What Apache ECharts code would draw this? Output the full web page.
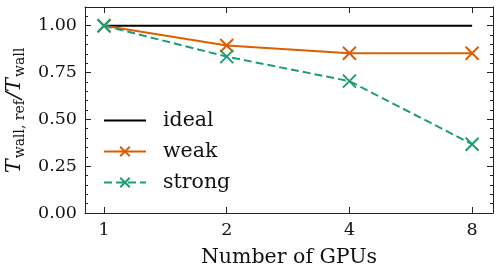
<!DOCTYPE html>
<html>
<head>
<meta charset="utf-8">
<script src="https://cdn.jsdelivr.net/npm/echarts@6/dist/echarts.min.js"></script>
<style>
  html, body { margin: 0; padding: 0; background: #fff; }
  #chart { width: 500px; height: 268px; }
</style>
</head>
<body>
<div id="chart"></div>
<script>
// data
var gpus = [1, 2, 4, 8];
var ideal = [1.0, 1.0, 1.0, 1.0];
var weak = [1.0, 0.894, 0.853, 0.853];
var strong = [1.0, 0.835, 0.704, 0.367];
var yTicks = [0, 0.25, 0.5, 0.75, 1.0];

function pairs(xs, ys) {
    return xs.map(function (x, i) { return [x, ys[i]]; });
}

var FONT = 'DejaVu Serif';
var AXIS = '#222';
var crossSymbol = 'path://M0,0L10,10M10,0L0,10';

var chart = echarts.init(document.getElementById('chart'), null, { renderer: 'canvas' });

var xBase = {
    type: 'log',
    logBase: 2,
    min: 0.898,
    max: 9.0,
    axisLine: { show: true, onZero: false, lineStyle: { color: AXIS, width: 1 } },
    axisTick: { show: true, inside: true, length: 6, lineStyle: { color: AXIS } },
    splitLine: { show: false },
    minorTick: { show: false }
};
var yBase = {
    type: 'value',
    min: 0,
    max: 1.1,
    interval: 0.25,
    axisLine: { show: true, onZero: false, lineStyle: { color: AXIS, width: 1 } },
    axisTick: { show: true, inside: true, length: 6, lineStyle: { color: AXIS } },
    minorTick: { show: true, splitNumber: 5, length: 3, lineStyle: { color: AXIS } },
    splitLine: { show: false }
};

var option = {
    animation: false,
    textStyle: { fontFamily: FONT },
    grid: { left: 85, right: 7, top: 7, bottom: 55, outerBoundsMode: 'none' },
    legend: {
        orient: 'vertical',
        left: 98,
        top: 105,
        itemWidth: 42,
        itemHeight: 12,
        itemGap: 10,
        textStyle: { fontFamily: FONT, fontSize: 20.5, color: '#111', padding: [0, 0, 0, 12] },
        data: [
            { name: 'ideal', itemStyle: { opacity: 0 } },
            'weak',
            'strong'
        ]
    },
    xAxis: [
        Object.assign({}, xBase, {
            position: 'bottom',
            name: 'Number of GPUs',
            nameLocation: 'middle',
            nameGap: 34,
            nameTextStyle: { fontFamily: FONT, fontSize: 20.5, color: '#111' },
            axisLabel: {
                fontFamily: FONT, fontSize: 17.5, color: '#111', margin: 8,
                showMinLabel: false, showMaxLabel: false,
                formatter: function (v) { return gpus.indexOf(Math.round(v)) >= 0 ? String(Math.round(v)) : ''; }
            }
        }),
        Object.assign({}, xBase, { position: 'top', axisLabel: { show: false } })
    ],
    yAxis: [
        Object.assign({}, yBase, {
            position: 'left',
            name: '{t|T}{s|wall, ref}{t|/}{t|T}{s|wall}',
            nameLocation: 'middle',
            nameGap: 57,
            nameRotate: 90,
            nameTextStyle: {
                rich: {
                    t: { fontFamily: FONT, fontSize: 21, fontStyle: 'italic', color: '#111' },
                    s: { fontFamily: FONT, fontSize: 14, color: '#111', padding: [12, 1, 0, 1] }
                }
            },
            axisLabel: {
                fontFamily: FONT, fontSize: 17.5, color: '#111', margin: 8,
                showMaxLabel: false,
                formatter: function (v) { return yTicks.indexOf(v) >= 0 ? v.toFixed(2) : ''; }
            }
        }),
        Object.assign({}, yBase, { position: 'right', axisLabel: { show: false } })
    ],
    series: [
        {
            name: 'ideal',
            type: 'line',
            data: pairs(gpus, ideal),
            showSymbol: false,
            symbol: 'none',
            lineStyle: { color: '#000', width: 2 },
            itemStyle: { color: '#000' }
        },
        {
            name: 'weak',
            type: 'line',
            data: pairs(gpus, weak),
            symbol: crossSymbol,
            symbolSize: 13,
            lineStyle: { color: '#d95f02', width: 2 },
            itemStyle: { color: 'rgba(0,0,0,0)', borderColor: '#d95f02', borderWidth: 2 }
        },
        {
            name: 'strong',
            type: 'line',
            data: pairs(gpus, strong),
            symbol: crossSymbol,
            symbolSize: 13,
            lineStyle: { color: '#1b9e77', width: 2, type: [8, 4] },
            itemStyle: { color: 'rgba(0,0,0,0)', borderColor: '#1b9e77', borderWidth: 2 }
        }
    ]
};

chart.setOption(option);
</script>
</body>
</html>
